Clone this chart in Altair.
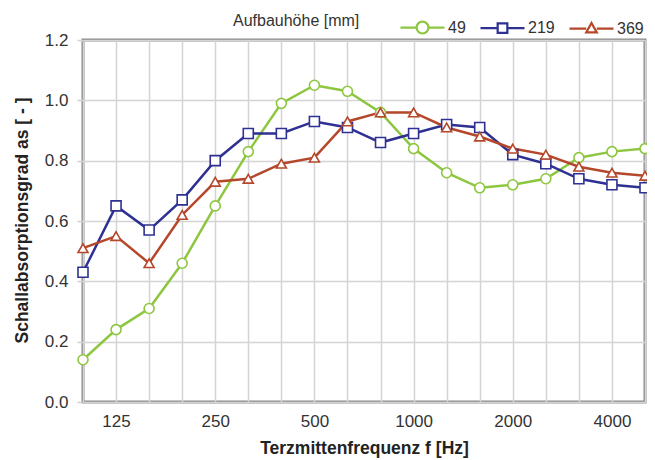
import altair as alt
import pandas as pd

freqs = ["100", "125", "160", "200", "250", "315", "400", "500", "630", "800",
         "1000", "1250", "1600", "2000", "2500", "3150", "4000", "5000"]
shown_labels = ["125", "250", "500", "1000", "2000", "4000"]

s49 = [0.14, 0.24, 0.31, 0.46, 0.65, 0.83, 0.99, 1.05, 1.03, 0.96,
       0.84, 0.76, 0.71, 0.72, 0.74, 0.81, 0.83, 0.84]
s219 = [0.43, 0.65, 0.57, 0.67, 0.80, 0.89, 0.89, 0.93, 0.91, 0.86,
        0.89, 0.92, 0.91, 0.82, 0.79, 0.74, 0.72, 0.71]
s369 = [0.51, 0.55, 0.46, 0.62, 0.73, 0.74, 0.79, 0.81, 0.93, 0.96,
        0.96, 0.91, 0.88, 0.84, 0.82, 0.78, 0.76, 0.75]

series = ["49", "219", "369"]
colors = ["#8dc63f", "#2e3192", "#b5472b"]
marker_shapes = ["circle", "square", "triangle-up"]
legend_shapes = [
    "M-1,0L-0.27,0M0.27,0L1,0M-0.27,0A0.27,0.27,0,1,0,0.27,0A0.27,0.27,0,1,0,-0.27,0Z",
    "M-1,0L-0.22,0M0.22,0L1,0M-0.22,-0.22L0.22,-0.22L0.22,0.22L-0.22,0.22Z",
    "M-1,0L-0.24,0M0.24,0L1,0M0,-0.26L0.24,0.17L-0.24,0.17Z",
]

rows = []
for name, vals in zip(series, [s49, s219, s369]):
    for f, v in zip(freqs, vals):
        rows.append({"f": f, "v": v, "series": name})
df = pd.DataFrame(rows)

label_expr = "indexof(" + str(shown_labels) + ", datum.value) >= 0 ? datum.value : ''"

x = alt.X(
    "f:O",
    sort=freqs,
    scale=alt.Scale(type="point", padding=0),
    axis=alt.Axis(
        title="Terzmittenfrequenz f [Hz]",
        labelExpr=label_expr,
        labelAngle=0,
        labelOverlap=False,
        ticks=False,
        domain=False,
        labelPadding=11,
        titlePadding=10,
        grid=True,
    ),
)
y = alt.Y(
    "v:Q",
    scale=alt.Scale(domain=[0, 1.2], nice=False, zero=True),
    axis=alt.Axis(
        title="Schallabsorptionsgrad as [ - ]",
        values=[0.0, 0.2, 0.4, 0.6, 0.8, 1.0, 1.2],
        format=".1f",
        domain=False,
        tickSize=6,
        tickColor="#d0d0d0",
        tickWidth=1.5,
        labelPadding=9,
        titleX=-61,
        titleY=180,
        titleAlign="center",
        titleBaseline="middle",
        grid=True,
    ),
)

base = alt.Chart(df)

line_layers = []
point_layers = []
for name, col, shp in zip(series, colors, marker_shapes):
    sub = base.transform_filter(alt.datum.series == name)
    line_layers.append(sub.mark_line(strokeWidth=2.5, color=col).encode(x=x, y=y))
    point_layers.append(
        sub.mark_point(shape=shp, filled=True, fill="white", stroke=col,
                       size=100, strokeWidth=1.6, opacity=1).encode(x=x, y=y)
    )

legend_layer = base.mark_point(opacity=0, strokeWidth=2).encode(
    x=x,
    y=y,
    color=alt.Color("series:N", scale=alt.Scale(domain=series, range=colors),
                    legend=alt.Legend(title="Aufbauhöhe [mm]")),
    shape=alt.Shape("series:N", scale=alt.Scale(domain=series, range=legend_shapes),
                    legend=alt.Legend(title="Aufbauhöhe [mm]")),
)

chart = (
    alt.layer(*line_layers, *point_layers, legend_layer)
    .properties(
        width=562,
        height=362,
        autosize=alt.AutoSizeParams(type="none"),
        padding={"left": 75, "top": 32, "right": 2, "bottom": 58},
    )
    .configure(font="Liberation Sans")
    .configure_view(stroke="#8a8a8a", strokeWidth=3)
    .configure_axis(
        gridColor="#d4d4d4",
        gridWidth=1.5,
        labelFont="Liberation Sans",
        labelFontSize=17,
        labelColor="#333333",
        titleFont="Liberation Sans",
        titleFontSize=17.5,
        titleFontWeight="bold",
        titleColor="#222222",
    )
    .configure_legend(
        orient="none",
        legendX=150,
        legendY=-36,
        direction="horizontal",
        titleOrient="left",
        titleAnchor="middle",
        titleBaseline="middle",
        titleFontSize=16,
        titleFontWeight="normal",
        titleColor="#333333",
        titleFont="Liberation Sans",
        labelFont="Liberation Sans",
        labelFontSize=16,
        labelColor="#333333",
        symbolSize=1936,
        symbolStrokeWidth=2.2,
        symbolOpacity=1,
        symbolFillColor="white",
        columnPadding=10,
        labelOffset=2,
        titlePadding=39,
    )
)

chart.save("out.html", embed_options={"renderer": "svg", "actions": False})
